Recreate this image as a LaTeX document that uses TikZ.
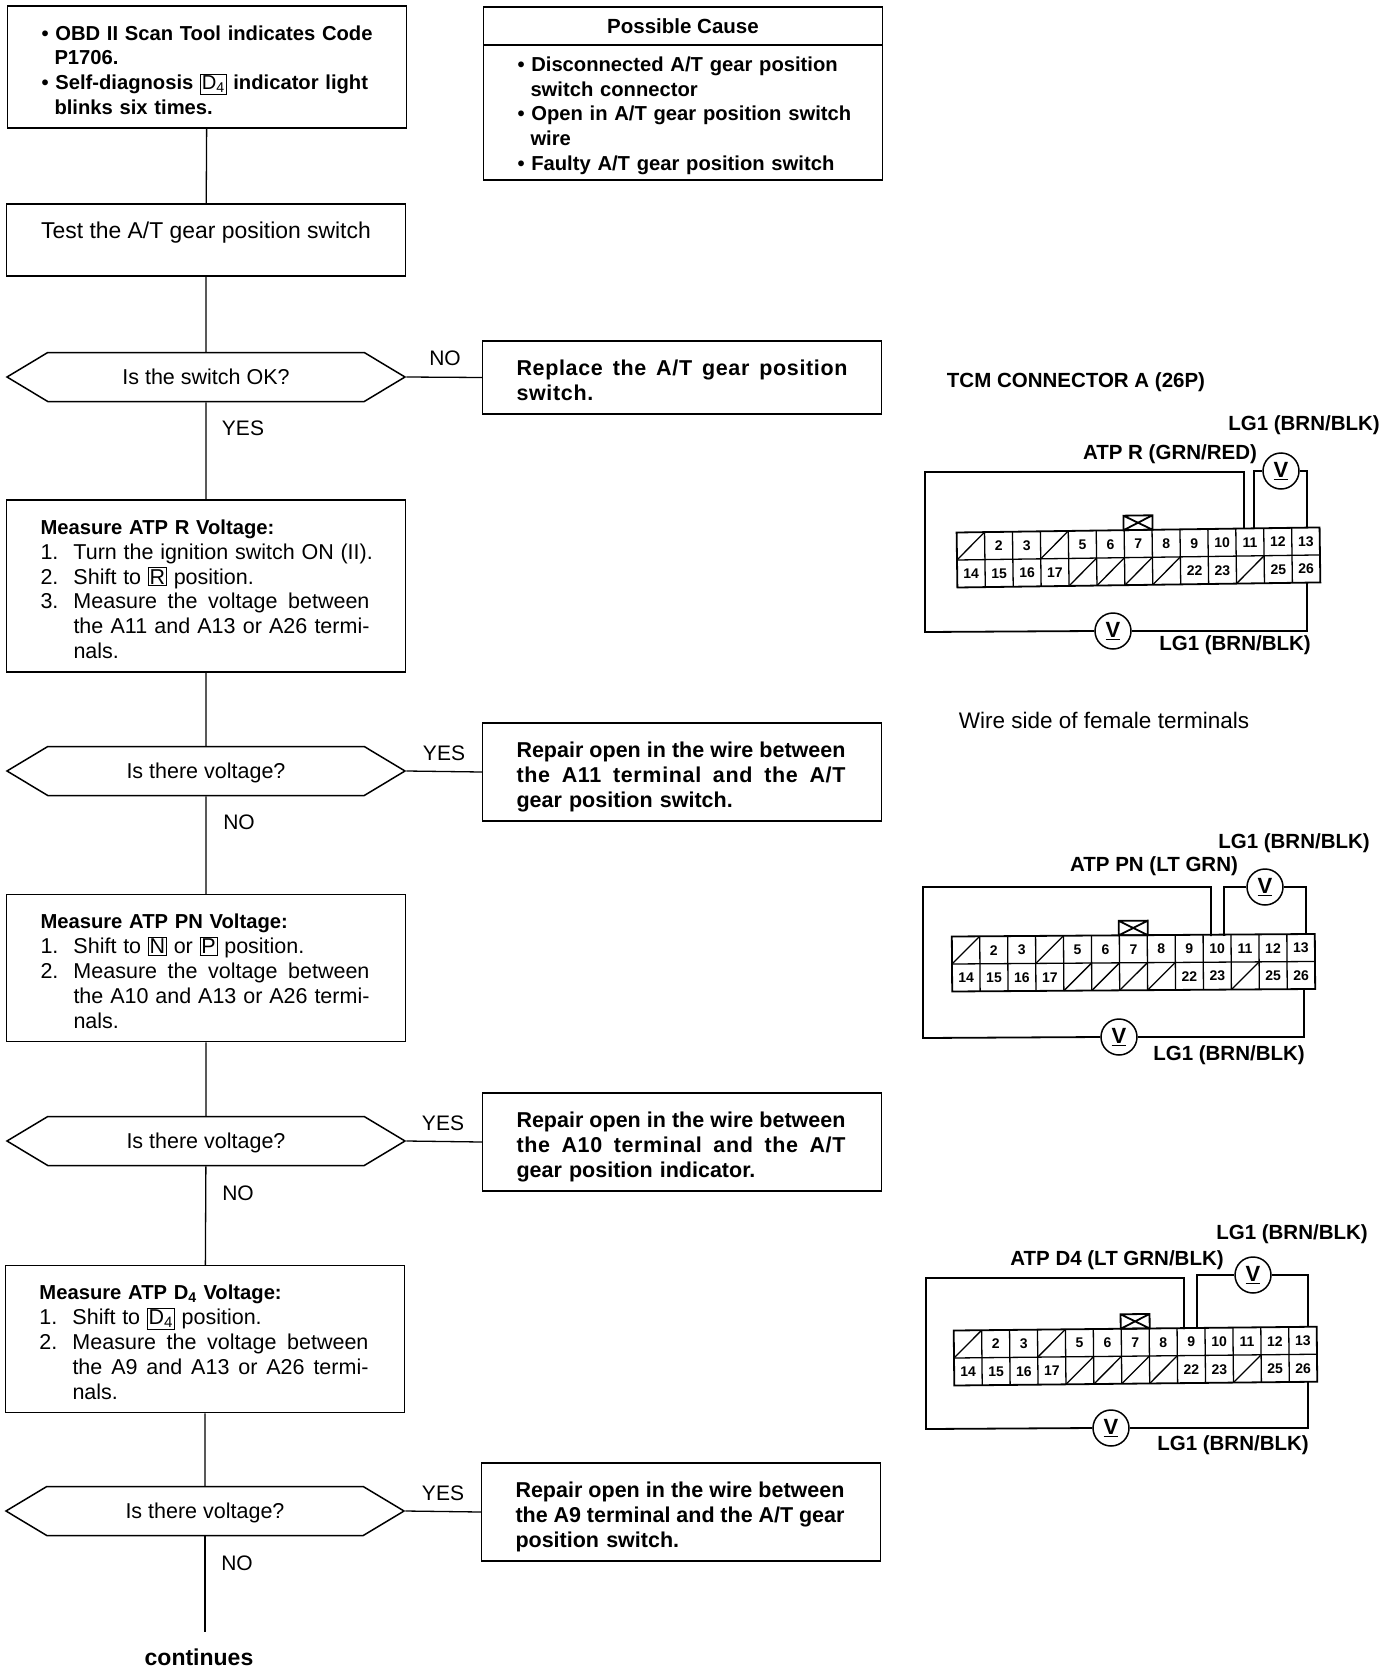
\documentclass[tikz,border=0pt]{standalone}
\usepackage{fontspec}
\setmainfont{Liberation Sans}
\usetikzlibrary{shapes.symbols}
\newcommand{\modekey}[1]{{\mdseries\fboxsep=1pt\fboxrule=0.8pt\fbox{#1}}}
\newcommand{\ind}{\hspace*{13pt}}
\newcommand{\stepno}[1]{\makebox[33pt][l]{#1}}
\newcommand{\stepgap}{\hspace*{33pt}}
\newcommand{\fitline}[2]{\makebox[#1][s]{\spaceskip=0pt\xspaceskip=0pt #2}}
\newcommand{\spaced}[1]{{\addfontfeatures{LetterSpace=3}#1}}
\newcommand{\stepfont}{\mdseries\fontsize{21.5}{24.8}\selectfont}
\begin{document}
\begin{tikzpicture}[x=1pt, y=-1pt,
    flowbox/.style={draw, line width=1.5pt, align=left, inner xsep=14pt, inner ysep=0pt, text width=371pt, execute at begin node={\leftskip=20pt\rule{0pt}{21pt}}, font=\fontsize{22.5}{24.8}\selectfont},
    boldbox/.style={flowbox, font=\bfseries\fontsize{20.2}{24.8}\selectfont},
    fixbox/.style={flowbox, font=\bfseries\fontsize{21.5}{24.8}\selectfont},
    repairbox/.style={fixbox, minimum height=98pt, execute at begin node={\rule{0pt}{25pt}}},
    headbox/.style={draw, line width=1.5pt, minimum width=399pt, minimum height=38pt, inner sep=0pt, text height=15pt, text depth=0pt, font=\bfseries\fontsize{20.5}{24.8}\selectfont},
    query/.style={draw, line width=1.5pt, shape=signal, signal to=east and west, signal pointer angle=62, minimum width=398pt, minimum height=49pt, inner xsep=0pt, text height=15pt, text depth=0pt, font=\fontsize{21.5}{24.6}\selectfont},
    answer/.style={font=\fontsize{21}{24}\selectfont, inner sep=0pt},
    wire/.style={line width=1.3pt},
    lead/.style={line width=1.8pt},
    meter/.style={draw, circle, line width=1.5pt, minimum size=36pt, inner sep=0pt, fill=white, font=\bfseries\fontsize{22}{24}\selectfont},
    lead text/.style={font=\bfseries\fontsize{20.5}{24}\selectfont, inner sep=0pt},
    pin/.style={font=\bfseries\fontsize{14}{16}\selectfont, inner sep=0pt}]
    \useasboundingbox (0,0) rectangle (1392,1672);

    \node[boldbox, minimum height=122pt] (scan) at (207,67) {%
        • OBD II Scan Tool indicates Code\\\ind P1706.\\• Self-diagnosis \modekey{D\textsubscript{4}} indicator light\\\ind blinks six times.};
    \node[draw, line width=1.5pt, minimum width=399pt, minimum height=72pt, inner sep=0pt, text height=15pt, text depth=18pt, font=\fontsize{22.9}{24.8}\selectfont] (test) at (206,240) {Test the A/T gear position switch};
    \node[query] (okq) at (206,377) {Is the switch OK?};
    \node[boldbox, minimum height=172pt] (atpr) at (206,586) {%
        Measure ATP R Voltage:\\\stepfont
        \stepno{1.}Turn the ignition switch ON (II).\\
        \stepno{2.}Shift to \modekey{R} position.\\
        \stepno{3.}\fitline{296pt}{Measure the voltage between}\\
        \stepgap\fitline{296pt}{the A11 and A13 or A26 termi-}\\
        \stepgap nals.};
    \node[query] (rq) at (206,771) {Is there voltage?};
    \node[boldbox, minimum height=147pt] (atppn) at (206,968) {%
        Measure ATP PN Voltage:\\\stepfont
        \stepno{1.}Shift to \modekey{N} or \modekey{P} position.\\
        \stepno{2.}\fitline{296pt}{Measure the voltage between}\\
        \stepgap\fitline{296pt}{the A10 and A13 or A26 termi-}\\
        \stepgap nals.};
    \node[query] (pnq) at (206,1141) {Is there voltage?};
    \node[boldbox, minimum height=147pt] (atpd) at (205,1339) {%
        Measure ATP D\textsubscript{4} Voltage:\\\stepfont
        \stepno{1.}Shift to \modekey{D\textsubscript{4}} position.\\
        \stepno{2.}\fitline{296pt}{Measure the voltage between}\\
        \stepgap\fitline{296pt}{the A9 and A13 or A26 termi-}\\
        \stepgap nals.};
    \node[query] (dq) at (205,1511) {Is there voltage?};
    \coordinate (tail) at (205,1632);
    \node[font=\bfseries\fontsize{23}{24}\selectfont, inner sep=0pt] (more) at (199,1657) {continues};

    \node[headbox] (causehead) at (683,26) {Possible Cause};
    \node[boldbox, minimum height=135pt] (cause) at (683,112.5) {%
        • Disconnected A/T gear position\\\ind switch connector\\• Open in A/T gear position switch\\\ind wire\\• Faulty A/T gear position switch};
    \node[fixbox, minimum height=73pt] (replace) at (682,377.5) {\fitline{331pt}{\spaced{Replace the A/T gear position}}\\\spaced{switch.}};
    \node[repairbox] (fixr) at (682,772) {\fitline{329pt}{Repair open in the wire between}\\\fitline{329pt}{\spaced{the A11 terminal and the A/T}}\\gear position switch.};
    \node[repairbox] (fixpn) at (682,1142) {\fitline{329pt}{Repair open in the wire between}\\\fitline{329pt}{\spaced{the A10 terminal and the A/T}}\\gear position indicator.};
    \node[repairbox] (fixd) at (681,1512) {\fitline{329pt}{Repair open in the wire between}\\\fitline{329pt}{the A9 terminal and the A/T gear}\\position switch.};

    \draw[wire] (scan) -- (test);
    \draw[wire] (test) -- (okq);
    \draw[wire] (okq) -- (atpr);
    \draw[wire] (atpr) -- (rq);
    \draw[wire] (rq) -- (atppn);
    \draw[wire] (atppn) -- (pnq);
    \draw[wire] (pnq) -- (atpd);
    \draw[wire] (atpd) -- (dq);
    \draw[wire] (dq.south) -- (tail);
    \draw[wire] (okq.east) -- (replace.west);
    \draw[wire] (rq.east) -- (fixr.west);
    \draw[wire] (pnq.east) -- (fixpn.west);
    \draw[wire] (dq.east) -- (fixd.west);

    \node[answer] (no1) at (445,358) {NO};
    \node[answer] (yes1) at (243,428) {YES};
    \node[answer] (yes2) at (444,753) {YES};
    \node[answer] (no2) at (239,822) {NO};
    \node[answer] (yes3) at (443,1123) {YES};
    \node[answer] (no3) at (238,1193) {NO};
    \node[answer] (yes4) at (443,1493) {YES};
    \node[answer] (no4) at (237,1563) {NO};

    \node[lead text] (title) at (1076,382) {TCM CONNECTOR A (26P)};
    \node[font=\fontsize{22.5}{24}\selectfont, inner sep=0pt] (side) at (1104,720) {Wire side of female terminals};

    \foreach \k/\bx/\by/\tilt in {1/957/560/0.8, 2/952/964/0.4, 3/954/1358/0.6} {
        \begin{scope}[shift={(\bx,\by)}, rotate=\tilt]
            \draw[lead] (0,-27.5) rectangle (363,27.5);
            \draw[wire] (0,0) -- (363,0);
            \foreach \c in {1,...,12}
                \draw[wire] (\c*27.92,-27.5) -- (\c*27.92,27.5);
            \foreach \c in {0,3}
                \draw[wire] (\c*27.92,0) -- (\c*27.92+27.92,-27.5);
            \foreach \c in {4,5,6,7,10}
                \draw[wire] (\c*27.92,27.5) -- (\c*27.92+27.92,0);
            \draw[lead] (167,-27.5) rectangle (196,-42) (167,-42) -- (196,-27.5) (167,-27.5) -- (196,-42);
            \foreach \c/\t in {1/2,2/3,4/5,5/6,6/7,7/8,8/9,9/10,10/11,11/12,12/13}
                \node[pin] (c\k p\t) at (\c*27.92+14,-13.5) {\t};
            \foreach \c/\t in {0/14,1/15,2/16,3/17,8/22,9/23,11/25,12/26}
                \node[pin] (c\k p\t) at (\c*27.92+14,14) {\t};
        \end{scope}
    }

    \node[meter] (v1a) at (1281,471) {\underline{V}};
    \node[meter] (v1b) at (1113,631) {\underline{V}};
    \coordinate (t1a) at (1244,528);
    \coordinate (t1b) at (1254,528);
    \coordinate (t1c) at (1307,528);
    \coordinate (t1d) at (1307,583);
    \draw[lead] (t1a) -- (1244,472) -- (925,472) -- (925,632) -- (v1b.west);
    \draw[lead] (v1b.east) -| (t1d);
    \draw[lead] (t1b) |- (v1a.west);
    \draw[lead] (v1a.east) -| (t1c);
    \node[lead text] (lg1a) at (1304,425) {LG1 (BRN/BLK)};
    \node[lead text] (atp1) at (1170,454) {ATP R (GRN/RED)};
    \node[lead text] (lg1b) at (1235,645) {LG1 (BRN/BLK)};

    \node[meter] (v2a) at (1265,887) {\underline{V}};
    \node[meter] (v2b) at (1119,1037) {\underline{V}};
    \coordinate (t2a) at (1211,936);
    \coordinate (t2b) at (1224,936);
    \coordinate (t2c) at (1306,935);
    \coordinate (t2d) at (1304,990);
    \draw[lead] (t2a) -- (1211,887) -- (923,887) -- (923,1038) -- (v2b.west);
    \draw[lead] (v2b.east) -| (t2d);
    \draw[lead] (t2b) |- (v2a.west);
    \draw[lead] (v2a.east) -| (t2c);
    \node[lead text] (lg2a) at (1294,843) {LG1 (BRN/BLK)};
    \node[lead text] (atp2) at (1154,866) {ATP PN (LT GRN)};
    \node[lead text] (lg2b) at (1229,1055) {LG1 (BRN/BLK)};

    \node[meter] (v3a) at (1253,1275) {\underline{V}};
    \node[meter] (v3b) at (1111,1428) {\underline{V}};
    \coordinate (t3a) at (1184,1329);
    \coordinate (t3b) at (1197,1328);
    \coordinate (t3c) at (1308,1326);
    \coordinate (t3d) at (1308,1382);
    \draw[lead] (t3a) -- (1184,1278) -- (926,1278) -- (926,1429) -- (v3b.west);
    \draw[lead] (v3b.east) -| (t3d);
    \draw[lead] (t3b) |- (v3a.west);
    \draw[lead] (v3a.east) -| (t3c);
    \node[lead text] (lg3a) at (1292,1234) {LG1 (BRN/BLK)};
    \node[lead text] (atp3) at (1117,1260) {ATP D4 (LT GRN/BLK)};
    \node[lead text] (lg3b) at (1233,1445) {LG1 (BRN/BLK)};
\end{tikzpicture}
\end{document}
